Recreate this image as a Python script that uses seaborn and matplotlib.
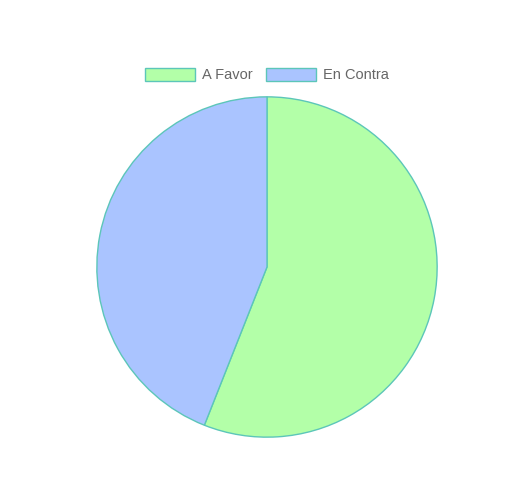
import matplotlib
matplotlib.use("Agg")
import matplotlib.pyplot as plt
import seaborn as sns

# data
labels = ["A Favor", "En Contra"]
values = [56, 44]
colors = ["#b3ffa8", "#aac4ff"]
edge = "#5cc6b9"

sns.set_theme(style="white")
plt.rcParams['font.family'] = ['Liberation Sans', 'DejaVu Sans']

fig = plt.figure(figsize=(5.21, 4.87), dpi=100)
W, H = 521, 487
cx, cy, r = 267, 267, 171
ax = fig.add_axes([(cx - r) / W, (H - cy - r) / H, 2 * r / W, 2 * r / H])

wedges, _ = ax.pie(values, colors=colors, startangle=90, counterclock=False,
                   radius=1, wedgeprops={'edgecolor': edge, 'linewidth': 1.0})
ax.set_xlim(-1.005, 1.005)
ax.set_ylim(-1.005, 1.005)
ax.set_aspect('equal')
ax.axis('off')

fs = 10.5
leg = fig.legend(wedges, labels, loc='center', bbox_to_anchor=(cx / W, 1 - 75 / H),
                 ncol=2, frameon=False, fontsize=fs, handlelength=50 / (fs * 100 / 72),
                 handleheight=1.0, handletextpad=0.5, columnspacing=0.9,
                 labelcolor='#666666')
for h in leg.legend_handles:
    h.set_edgecolor(edge)
    h.set_linewidth(1.0)

fig.savefig("out.png", dpi=100, facecolor='white')
